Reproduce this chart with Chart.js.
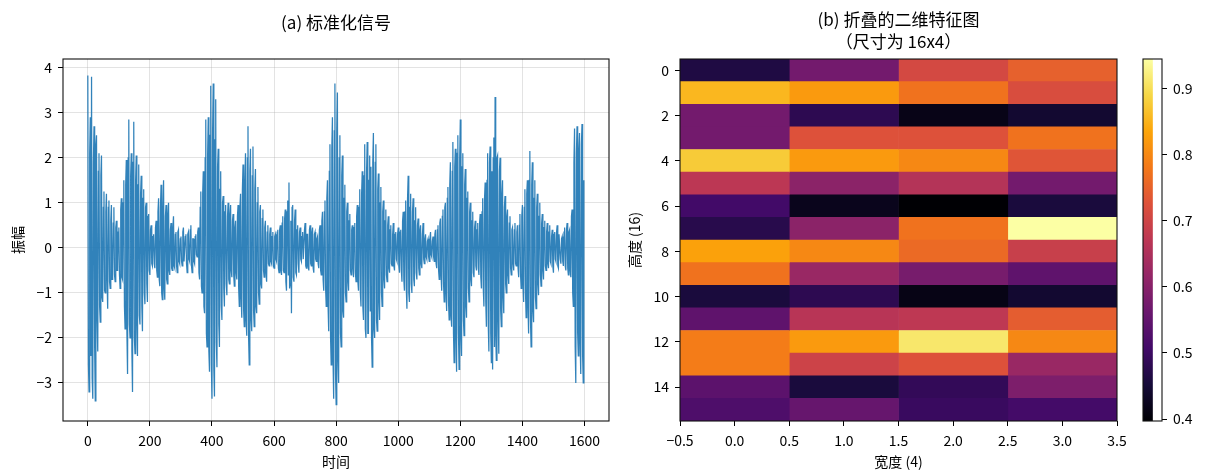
<!DOCTYPE html>
<html>
<head>
<meta charset="utf-8">
<script src="https://cdn.jsdelivr.net/npm/chart.js@4.4.1/dist/chart.umd.min.js"></script>
<style>
html, body { margin: 0; padding: 0; background: #fff; }
#wrap { position: relative; width: 1210px; height: 473px; }
canvas { position: absolute; top: 0; }
</style>
</head>
<body>
<div id="wrap">
  <canvas id="signalChart" width="620" height="473" style="left:0px"></canvas>
  <canvas id="mapChart" width="520" height="473" style="left:620px"></canvas>
  <canvas id="barChart" width="80" height="473" style="left:1130px"></canvas>
</div>
<script>
// standardized signal, one value every 2 samples (1600 samples)
const sampleCount = 1600;
const sampleStep = 2;
const signal = [
  3.83, -2.6, -3.2, 2.1, 2.9, -2.4, 3.8, -2.9, -3.35, 1.9, 2.7, -2.2, -3.4, 2.3, 2.5, -1.6, -2.3, 1.7, 2.1, -1.3,
  -1.65, 1.6, 2.05, -1.1, -1.2, 0.9, 1.25, -0.95, -1.0, 0.8, 1.2, -0.7, -1.35, 0.9, 1.05, -0.75, -0.9, 0.6, 0.95, -0.7,
  -0.6, 0.55, 0.9, -0.6, -0.75, 0.45, 0.6, -0.5, -0.5, 0.35, 0.45, -0.6, -0.9, 0.85, 1.1, -0.65, -0.7, 1.0, 1.5, -1.3,
  -1.8, 1.4, 1.95, -1.9, -2.8, 2.0, 2.85, -1.7, -2.0, 1.6, 2.1, -2.3, -3.2, 1.9, 2.8, -2.0, -2.35, 1.5, 2.05, -1.7,
  -2.4, 1.4, 1.85, -1.5, -1.7, 1.2, 1.6, -1.3, -1.85, 1.1, 1.3, -1.0, -1.25, 0.9, 1.0, -0.8, -1.2, 0.7, 0.75, -0.5,
  -0.6, 0.4, 0.5, -0.35, -0.4, 0.25, 0.3, -0.35, -0.45, 0.45, 0.6, -0.5, -0.65, 0.8, 1.1, -0.7, -0.85, 0.9, 1.4, -1.0,
  -1.15, 0.9, 1.5, -0.9, -1.15, 0.7, 0.95, -0.7, -0.8, 0.75, 1.0, -0.5, -0.6, 0.4, 0.55, -0.45, -0.5, 0.45, 0.7, -0.4,
  -0.45, 0.3, 0.35, -0.4, -0.55, 0.35, 0.4, -0.3, -0.35, 0.2, 0.25, -0.3, -0.4, 0.35, 0.45, -0.3, -0.3, 0.25, 0.3, -0.35,
  -0.55, 0.3, 0.35, -0.25, -0.3, 0.4, 0.5, -0.4, -0.55, 0.2, 0.2, -0.3, -0.35, 0.25, 0.3, -0.15, -0.2, 0.35, 0.45, -0.55,
  -0.7, 0.9, 1.25, -0.85, -1.0, 1.2, 1.7, -1.3, -1.45, 2.0, 2.85, -1.9, -2.2, 2.1, 2.9, -2.3, -2.75, 2.5, 3.6, -2.6,
  -3.35, 2.6, 3.65, -2.7, -3.3, 2.4, 3.3, -2.1, -2.65, 1.8, 2.2, -1.7, -2.2, 1.3, 1.7, -1.3, -1.6, 1.0, 1.15, -0.9,
  -1.3, 0.8, 0.95, -0.8, -1.05, 0.7, 1.0, -0.7, -0.8, 0.75, 0.95, -0.5, -0.65, 0.6, 0.75, -0.6, -0.85, 0.45, 0.6, -0.55,
  -0.7, 0.7, 0.95, -0.9, -1.3, 0.9, 1.2, -1.1, -1.55, 1.3, 1.85, -1.4, -1.75, 1.5, 2.1, -1.6, -1.95, 2.0, 2.7, -2.0,
  -2.6, 1.7, 2.2, -1.6, -1.85, 1.6, 2.25, -1.4, -1.75, 1.3, 1.75, -1.3, -1.45, 1.0, 1.35, -1.0, -1.25, 0.8, 0.95, -0.8,
  -0.9, 0.65, 0.85, -0.5, -0.65, 0.45, 0.6, -0.55, -0.75, 0.35, 0.5, -0.35, -0.4, 0.3, 0.45, -0.3, -0.35, 0.25, 0.35, -0.4,
  -0.45, 0.25, 0.3, -0.25, -0.3, 0.35, 0.4, -0.45, -0.55, 0.4, 0.5, -0.5, -0.6, 0.55, 0.7, -0.5, -0.55, 0.65, 0.85, -0.75,
  -0.95, 0.8, 1.05, -0.6, 1.45, -0.9, -0.8, 0.6, -1.45, 0.9, 0.95, -0.65, -0.75, 0.6, 0.85, -0.55, -0.6, 0.4, 0.5, -0.35,
  -0.55, 0.35, 0.45, -0.25, -0.3, 0.25, 0.35, -0.25, -0.25, 0.4, 0.55, -0.4, -0.45, 0.3, 0.3, -0.4, -0.5, 0.4, 0.5, -0.35,
  -0.4, 0.35, 0.45, -0.45, -0.55, 0.3, 0.35, -0.25, -0.3, 0.2, 0.25, -0.35, -0.45, 0.4, 0.5, -0.5, -0.6, 0.6, 0.8, -0.7,
  -0.95, 0.8, 1.05, -0.9, -1.3, 1.1, 1.5, -1.3, -1.85, 1.7, 2.3, -2.0, -2.6, 2.2, 2.9, -2.5, -3.35, 2.6, 3.65, -2.8,
  -3.48, 2.6, 3.45, -2.5, -3.0, 2.0, 2.5, -1.9, -2.2, 1.6, 2.05, -1.4, -1.55, 1.1, 1.4, -1.0, -1.2, 0.8, 1.0, -0.75,
  -0.95, 0.6, 0.75, -0.5, -0.6, 0.4, 0.5, -0.45, -0.65, 0.45, 0.55, -0.55, -0.75, 0.7, 0.95, -0.75, -0.95, 0.9, 1.3, -1.0,
  -1.3, 1.2, 1.7, -1.3, -1.6, 1.6, 2.3, -1.8, -2.0, 1.7, 2.35, -1.9, -1.9, 1.5, 2.05, -1.4, 1.8, -2.0, -2.65, 1.9,
  2.55, -1.8, -2.0, 1.9, 2.3, -1.6, -1.85, 1.3, 1.65, -1.2, -1.6, 1.0, 1.35, -1.0, -1.3, 0.8, 1.05, -0.7, -0.9, 0.6,
  0.85, -0.6, -0.75, 0.5, 0.7, -0.45, -0.55, 0.4, 0.5, -0.35, -0.4, 0.3, 0.55, -0.4, -0.5, 0.3, 0.35, -0.25, -0.3, 0.3,
  0.45, -0.4, -0.55, 0.35, 0.4, -0.5, -0.75, 0.6, 0.8, -0.7, -0.95, 0.8, 1.05, -0.9, -1.35, 1.1, 1.6, -1.0, -1.2, 0.9,
  1.2, -0.8, -1.0, 0.8, 1.1, -0.7, -0.85, 0.6, 0.9, -0.55, -0.7, 0.5, 0.65, -0.45, -0.6, 0.4, 0.5, -0.35, -0.45, 0.3,
  0.55, -0.25, -0.35, 0.2, 0.3, -0.2, -0.25, 0.15, 0.2, -0.2, -0.3, 0.2, 0.35, -0.15, -0.2, 0.15, 0.25, -0.2, -0.3, 0.3,
  0.4, -0.35, -0.45, 0.4, 0.5, -0.5, -0.7, 0.55, 0.65, -0.6, -0.95, 0.7, 0.85, -0.8, -1.2, 0.9, 1.0, -1.0, -1.4, 1.1,
  1.35, -1.2, -1.6, 1.4, 1.9, -1.5, -1.75, 1.7, 2.35, -1.9, -2.55, 1.8, 2.2, -2.0, -2.75, 2.1, 2.5, -1.9, -2.7, 2.0,
  2.85, -2.0, -2.4, 1.8, 2.1, -1.6, -1.95, 1.4, 1.75, -1.3, -1.55, 1.1, 1.25, -0.9, -1.2, 0.8, 1.0, -0.7, -0.85, 0.6,
  0.8, -0.55, -0.65, 0.45, 0.6, -0.4, -0.5, 0.4, 0.55, -0.45, -0.6, 0.55, 0.75, -0.65, -0.9, 0.8, 1.1, -0.9, -1.3, 1.1,
  1.45, -1.2, -1.75, 1.5, 2.1, -1.7, -2.3, 1.9, 2.25, -1.9, -2.55, 1.7, -2.7, 2.0, 2.45, -2.2, 3.35, -1.9, -2.5, 2.0,
  2.05, -1.6, -2.35, 1.7, 2.0, -1.4, -1.75, 1.2, 1.5, -1.1, -1.45, 0.9, 1.15, -0.8, -1.0, 0.7, 0.85, -0.6, -0.8, 0.55,
  0.7, -0.45, -0.6, 0.4, 0.45, -0.35, -0.5, 0.4, 0.55, -0.35, -0.4, 0.35, 0.5, -0.45, -0.65, 0.5, 0.75, -0.6, -0.9, 0.7,
  0.95, -0.8, -1.2, 0.9, 1.3, -1.0, -1.55, 1.2, 1.5, -1.3, -1.9, 1.5, 2.15, -1.6, -2.2, 1.4, 1.9, -1.4, -1.65, 1.1,
  1.5, -1.1, -1.35, 0.9, 1.2, -0.8, -1.05, 0.7, 1.0, -0.6, -0.85, 0.55, 0.75, -0.5, -0.7, 0.45, 0.6, -0.4, -0.5, 0.35,
  0.55, -0.35, -0.45, 0.35, 0.5, -0.3, -0.35, 0.25, 0.4, -0.4, -0.55, 0.3, 0.35, -0.25, -0.3, 0.35, 0.5, -0.4, -0.45, 0.3,
  0.3, -0.25, -0.35, 0.2, 0.25, -0.3, -0.4, 0.35, 0.45, -0.4, -0.5, 0.4, 0.55, -0.45, -0.6, 0.35, 0.4, -0.5, -0.65, 0.7,
  0.85, -1.0, -1.3, 1.9, 2.65, -2.2, -3.0, 2.1, 2.7, -1.9, -2.4, 2.2, 2.55, -2.1, -2.8, 2.3, 2.75, -2.4, -3.0, 1.5
];

// folded 16x4 feature map, one array per column (rows 0..15)
const col0 = [0.463, 0.855, 0.573, 0.573, 0.877, 0.671, 0.507, 0.474, 0.83, 0.772, 0.457, 0.546, 0.785, 0.785, 0.542, 0.523];
const col1 = [0.573, 0.822, 0.48, 0.726, 0.822, 0.605, 0.422, 0.605, 0.80, 0.624, 0.48, 0.666, 0.822, 0.697, 0.457, 0.556];
const col2 = [0.709, 0.772, 0.417, 0.726, 0.80, 0.66, 0.397, 0.772, 0.761, 0.579, 0.415, 0.674, 0.912, 0.726, 0.488, 0.496];
const col3 = [0.748, 0.718, 0.444, 0.772, 0.731, 0.573, 0.457, 0.945, 0.689, 0.546, 0.444, 0.743, 0.80, 0.624, 0.587, 0.51];
const rowTicks = [0, 2, 4, 6, 8, 10, 12, 14];

const FONT = '"Noto Sans CJK SC", "DejaVu Sans", sans-serif';
Chart.defaults.font.family = FONT;
Chart.defaults.font.size = 14;
Chart.defaults.color = '#000';

const inferno = ['#000004', '#160b39', '#420a68', '#6a176e', '#932667', '#bc3754',
                 '#dd513a', '#f37819', '#fca50a', '#f6d746', '#fcffa4'];

function hexRgb(h) {
  return [parseInt(h.slice(1, 3), 16), parseInt(h.slice(3, 5), 16), parseInt(h.slice(5, 7), 16)];
}
function infernoAt(t) {
  t = Math.max(0, Math.min(1, t));
  const p = t * (inferno.length - 1);
  const i = Math.min(Math.floor(p), inferno.length - 2);
  const f = p - i;
  const a = hexRgb(inferno[i]), b = hexRgb(inferno[i + 1]);
  return 'rgb(' + a.map((v, k) => Math.round(v + (b[k] - v) * f)).join(',') + ')';
}
const minus = v => (v < 0 ? '\u2212' : '') + Math.abs(v);

// box around the plot area, like matplotlib spines
const frame = {
  id: 'frame',
  afterDatasetsDraw(chart) {
    const { ctx, chartArea: a } = chart;
    ctx.save();
    ctx.strokeStyle = '#111';
    ctx.lineWidth = 1.1;
    ctx.strokeRect(a.left, a.top, a.right - a.left, a.bottom - a.top);
    ctx.restore();
  }
};

const tickGrid = { drawOnChartArea: false, tickLength: 5, tickColor: '#000', tickWidth: 1 };
const lightGrid = { color: 'rgba(176,176,176,0.35)', lineWidth: 1, tickLength: 5, tickColor: '#000', tickWidth: 1 };

// (a) signal
const lo = Math.min(...signal), hi = Math.max(...signal);
const yPad = (hi - lo) * 0.05;
const xLast = sampleCount - 1;

new Chart(document.getElementById('signalChart'), {
  type: 'line',
  data: {
    datasets: [{
      data: signal.map((v, i) => ({ x: i * sampleStep, y: v })),
      borderColor: 'rgba(31,119,180,0.92)',
      borderWidth: 1.25,
      pointRadius: 0,
      tension: 0,
      fill: false
    }]
  },
  options: {
    responsive: false,
    animation: false,
    layout: { padding: { left: 0, right: 11, top: 0, bottom: 0 } },
    plugins: {
      legend: { display: false },
      tooltip: { enabled: false },
      title: {
        display: true, fullSize: false, text: '(a) 标准化信号', color: '#000',
        font: { size: 17, weight: 'normal', lineHeight: 1.2 },
        padding: { top: 12.5, bottom: 26.1 }
      }
    },
    scales: {
      x: {
        type: 'linear', min: -0.05 * xLast, max: xLast * 1.05,
        ticks: { stepSize: 200, includeBounds: false, padding: 6, maxRotation: 0, callback: v => String(v) },
        grid: lightGrid,
        border: { display: false },
        title: { display: true, text: '时间', padding: { top: 0, bottom: 3 } },
        afterFit: s => { s.height = 52; }
      },
      y: {
        type: 'linear', min: lo - yPad, max: hi + yPad,
        ticks: { stepSize: 1, includeBounds: false, padding: 6, callback: minus },
        grid: lightGrid,
        border: { display: false },
        title: { display: true, text: '振幅', padding: { top: 9, bottom: 0 } },
        afterFit: s => { s.width = 63; }
      }
    }
  },
  plugins: [frame]
});

// (b) heat map
const cols = [col0, col1, col2, col3];
const allValues = cols.flat();
const vmin = Math.min(...allValues), vmax = Math.max(...allValues);

new Chart(document.getElementById('mapChart'), {
  type: 'bar',
  data: {
    datasets: cols.map((col, c) => ({
      data: col.map((v, r) => ({ y: r, x: [c - 0.5, c + 0.5] })),
      backgroundColor: col.map(v => infernoAt((v - vmin) / (vmax - vmin))),
      borderWidth: 0,
      grouped: false,
      barPercentage: 1,
      categoryPercentage: 1
    }))
  },
  options: {
    indexAxis: 'y',
    responsive: false,
    animation: false,
    layout: { padding: { left: 0, right: 23, top: 0, bottom: 0 } },
    plugins: {
      legend: { display: false },
      tooltip: { enabled: false },
      title: {
        display: true, fullSize: false, color: '#000',
        text: ['(b) 折叠的二维特征图', '（尺寸为 16x4）'],
        font: { size: 17, weight: 'normal', lineHeight: 1.28 },
        padding: { top: 9, bottom: 6.5 }
      }
    },
    scales: {
      x: {
        type: 'linear', min: -0.5, max: 3.5, offset: false,
        ticks: { stepSize: 0.5, padding: 6, maxRotation: 0, callback: v => (v < 0 ? '\u2212' : '') + Math.abs(v).toFixed(1) },
        grid: tickGrid,
        border: { display: false },
        title: { display: true, text: '宽度 (4)', padding: { top: 0, bottom: 3 } },
        afterFit: s => { s.height = 52; }
      },
      y: {
        type: 'linear', reverse: true, min: -0.5, max: 15.5, offset: false,
        afterBuildTicks: s => { s.ticks = rowTicks.map(v => ({ value: v })); },
        ticks: { padding: 6, callback: v => String(v) },
        grid: Object.assign({}, tickGrid, { offset: false }),
        border: { display: false },
        title: { display: true, text: '高度 (16)', padding: { top: 6.6, bottom: 0 } },
        afterFit: s => { s.width = 60; }
      }
    }
  },
  plugins: [frame]
});

// colour bar
new Chart(document.getElementById('barChart'), {
  type: 'bar',
  data: {
    labels: [''],
    datasets: [{
      data: [[vmin, vmax]],
      backgroundColor: ctx => {
        const a = ctx.chart.chartArea;
        if (!a) return 'rgba(0,0,0,0)';
        const g = ctx.chart.ctx.createLinearGradient(0, a.bottom, 0, a.top);
        inferno.forEach((c, i) => g.addColorStop(i / (inferno.length - 1), c));
        return g;
      },
      borderWidth: 0,
      barPercentage: 1,
      categoryPercentage: 1
    }]
  },
  options: {
    responsive: false,
    animation: false,
    layout: { padding: { left: 13, right: 0, top: 59, bottom: 52 } },
    plugins: { legend: { display: false }, tooltip: { enabled: false } },
    scales: {
      x: { display: false, offset: false },
      y: {
        position: 'right', min: vmin, max: vmax,
        ticks: { stepSize: 0.1, includeBounds: false, padding: 6, callback: v => v.toFixed(1) },
        grid: tickGrid,
        border: { display: false },
        afterFit: s => { s.width = 48; }
      }
    }
  },
  plugins: [frame]
});
</script>
</body>
</html>
